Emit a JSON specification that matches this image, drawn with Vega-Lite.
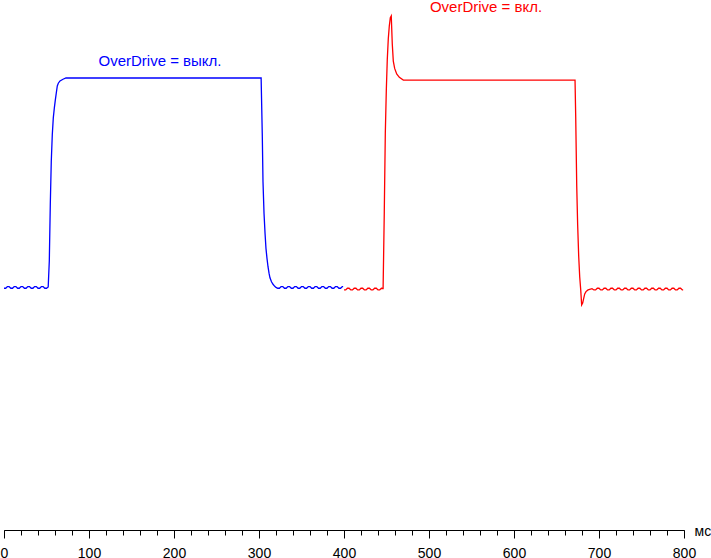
{
  "$schema": "https://vega.github.io/schema/vega-lite/v6.json",
  "width": 680,
  "height": 530,
  "autosize": "none",
  "padding": {"left": 4, "top": 0, "right": 27, "bottom": 28},
  "background": "white",
  "config": {"view": {"stroke": null}, "font": "Liberation Sans"},
  "resolve": {"axis": {"x": "independent"}},
  "datasets": {
    "curves": [
      {"s":"off","t":0,"v":-0.6},{"s":"off","t":2,"v":-0.6},{"s":"off","t":4,"v":0.2},{"s":"off","t":6,"v":0.2},
      {"s":"off","t":8,"v":-0.6},{"s":"off","t":10,"v":-0.6},{"s":"off","t":12,"v":0.2},{"s":"off","t":14,"v":0.2},
      {"s":"off","t":16,"v":-0.6},{"s":"off","t":18,"v":-0.6},{"s":"off","t":20,"v":0.2},{"s":"off","t":22,"v":0.2},
      {"s":"off","t":24,"v":-0.6},{"s":"off","t":26,"v":-0.6},{"s":"off","t":28,"v":0.2},{"s":"off","t":30,"v":0.2},
      {"s":"off","t":32,"v":-0.6},{"s":"off","t":34,"v":-0.6},{"s":"off","t":36,"v":0.2},{"s":"off","t":38,"v":0.2},
      {"s":"off","t":40,"v":-0.6},{"s":"off","t":42,"v":-0.6},{"s":"off","t":44,"v":0.2},{"s":"off","t":46,"v":0.2},
      {"s":"off","t":48,"v":-0.6},{"s":"off","t":50,"v":-0.6},{"s":"off","t":52,"v":0.0},
      {"s":"off","t":53.3,"v":12.4},{"s":"off","t":54.5,"v":40.2},{"s":"off","t":55.6,"v":59.8},{"s":"off","t":56.8,"v":72.7},
      {"s":"off","t":58.0,"v":80.9},{"s":"off","t":59.2,"v":85.6},{"s":"off","t":60.4,"v":89.5},{"s":"off","t":61.5,"v":92.8},
      {"s":"off","t":62.7,"v":96.2},{"s":"off","t":63.9,"v":97.5},{"s":"off","t":65.9,"v":98.6},{"s":"off","t":69.4,"v":99.4},
      {"s":"off","t":72.9,"v":100},{"s":"off","t":100,"v":100},{"s":"off","t":150,"v":100},{"s":"off","t":200,"v":100},
      {"s":"off","t":250,"v":100},{"s":"off","t":302.5,"v":100},
      {"s":"off","t":303.9,"v":71.9},{"s":"off","t":304.7,"v":50.4},{"s":"off","t":305.9,"v":35.3},{"s":"off","t":307.1,"v":25.7},
      {"s":"off","t":308.2,"v":18.5},{"s":"off","t":309.4,"v":13.7},{"s":"off","t":310.6,"v":9.7},{"s":"off","t":311.8,"v":6.6},
      {"s":"off","t":312.9,"v":4.4},{"s":"off","t":314.7,"v":2.5},{"s":"off","t":316.5,"v":1.3},{"s":"off","t":318.5,"v":0.3},
      {"s":"off","t":320,"v":-0.2},
      {"s":"off","t":322,"v":-0.6},{"s":"off","t":324,"v":-0.6},{"s":"off","t":326,"v":0.2},{"s":"off","t":328,"v":0.2},
      {"s":"off","t":330,"v":-0.6},{"s":"off","t":332,"v":-0.6},{"s":"off","t":334,"v":0.2},{"s":"off","t":336,"v":0.2},
      {"s":"off","t":338,"v":-0.6},{"s":"off","t":340,"v":-0.6},{"s":"off","t":342,"v":0.2},{"s":"off","t":344,"v":0.2},
      {"s":"off","t":346,"v":-0.6},{"s":"off","t":348,"v":-0.6},{"s":"off","t":350,"v":0.2},{"s":"off","t":352,"v":0.2},
      {"s":"off","t":354,"v":-0.6},{"s":"off","t":356,"v":-0.6},{"s":"off","t":358,"v":0.2},{"s":"off","t":360,"v":0.2},
      {"s":"off","t":362,"v":-0.6},{"s":"off","t":364,"v":-0.6},{"s":"off","t":366,"v":0.2},{"s":"off","t":368,"v":0.2},
      {"s":"off","t":370,"v":-0.6},{"s":"off","t":372,"v":-0.6},{"s":"off","t":374,"v":0.2},{"s":"off","t":376,"v":0.2},
      {"s":"off","t":378,"v":-0.6},{"s":"off","t":380,"v":-0.6},{"s":"off","t":382,"v":0.2},{"s":"off","t":384,"v":0.2},
      {"s":"off","t":386,"v":-0.6},{"s":"off","t":388,"v":-0.6},{"s":"off","t":390,"v":0.2},{"s":"off","t":392,"v":0.2},
      {"s":"off","t":394,"v":-0.6},{"s":"off","t":396,"v":-0.6},{"s":"off","t":398,"v":0.2},{"s":"off","t":399,"v":0.2},

      {"s":"on","t":400,"v":-1.4},{"s":"on","t":402,"v":-1.4},{"s":"on","t":404,"v":-0.6},{"s":"on","t":406,"v":-0.6},
      {"s":"on","t":408,"v":-1.4},{"s":"on","t":410,"v":-1.4},{"s":"on","t":412,"v":-0.6},{"s":"on","t":414,"v":-0.6},
      {"s":"on","t":416,"v":-1.4},{"s":"on","t":418,"v":-1.4},{"s":"on","t":420,"v":-0.6},{"s":"on","t":422,"v":-0.6},
      {"s":"on","t":424,"v":-1.4},{"s":"on","t":426,"v":-1.4},{"s":"on","t":428,"v":-0.6},{"s":"on","t":430,"v":-0.6},
      {"s":"on","t":432,"v":-1.4},{"s":"on","t":434,"v":-1.4},{"s":"on","t":436,"v":-0.6},{"s":"on","t":438,"v":-0.6},
      {"s":"on","t":440,"v":-1.4},{"s":"on","t":442,"v":-1.4},{"s":"on","t":444,"v":-0.6},{"s":"on","t":446,"v":-0.7},
      {"s":"on","t":447.4,"v":36.0},{"s":"on","t":448.6,"v":73.4},{"s":"on","t":449.8,"v":94.5},{"s":"on","t":450.9,"v":108.6},
      {"s":"on","t":452.1,"v":118.7},{"s":"on","t":453.3,"v":124.9},{"s":"on","t":454.5,"v":128.9},{"s":"on","t":455.6,"v":129.7},
      {"s":"on","t":456.8,"v":116.3},{"s":"on","t":458.0,"v":108.1},{"s":"on","t":459.6,"v":104.6},{"s":"on","t":462.0,"v":101.9},
      {"s":"on","t":465.1,"v":100.3},{"s":"on","t":469.8,"v":99.0},{"s":"on","t":500,"v":99.0},{"s":"on","t":550,"v":99.0},
      {"s":"on","t":600,"v":99.0},{"s":"on","t":650,"v":99.0},{"s":"on","t":671.8,"v":99.0},
      {"s":"on","t":672.6,"v":81.5},{"s":"on","t":673.8,"v":48.3},{"s":"on","t":674.9,"v":29.7},{"s":"on","t":676.1,"v":14.8},
      {"s":"on","t":677.3,"v":4.9},{"s":"on","t":678.5,"v":-1.4},{"s":"on","t":679.6,"v":-8.6},{"s":"on","t":680.8,"v":-7.7},
      {"s":"on","t":682.0,"v":-5.4},{"s":"on","t":683.2,"v":-3.3},{"s":"on","t":684.7,"v":-2.2},{"s":"on","t":687.1,"v":-1.4},
      {"s":"on","t":691.8,"v":-0.8},
      {"s":"on","t":694,"v":-1.4},{"s":"on","t":696,"v":-1.4},{"s":"on","t":698,"v":-0.6},{"s":"on","t":700,"v":-0.6},
      {"s":"on","t":702,"v":-1.4},{"s":"on","t":704,"v":-1.4},{"s":"on","t":706,"v":-0.6},{"s":"on","t":708,"v":-0.6},
      {"s":"on","t":710,"v":-1.4},{"s":"on","t":712,"v":-1.4},{"s":"on","t":714,"v":-0.6},{"s":"on","t":716,"v":-0.6},
      {"s":"on","t":718,"v":-1.4},{"s":"on","t":720,"v":-1.4},{"s":"on","t":722,"v":-0.6},{"s":"on","t":724,"v":-0.6},
      {"s":"on","t":726,"v":-1.4},{"s":"on","t":728,"v":-1.4},{"s":"on","t":730,"v":-0.6},{"s":"on","t":732,"v":-0.6},
      {"s":"on","t":734,"v":-1.4},{"s":"on","t":736,"v":-1.4},{"s":"on","t":738,"v":-0.6},{"s":"on","t":740,"v":-0.6},
      {"s":"on","t":742,"v":-1.4},{"s":"on","t":744,"v":-1.4},{"s":"on","t":746,"v":-0.6},{"s":"on","t":748,"v":-0.6},
      {"s":"on","t":750,"v":-1.4},{"s":"on","t":752,"v":-1.4},{"s":"on","t":754,"v":-0.6},{"s":"on","t":756,"v":-0.6},
      {"s":"on","t":758,"v":-1.4},{"s":"on","t":760,"v":-1.4},{"s":"on","t":762,"v":-0.6},{"s":"on","t":764,"v":-0.6},
      {"s":"on","t":766,"v":-1.4},{"s":"on","t":768,"v":-1.4},{"s":"on","t":770,"v":-0.6},{"s":"on","t":772,"v":-0.6},
      {"s":"on","t":774,"v":-1.4},{"s":"on","t":776,"v":-1.4},{"s":"on","t":778,"v":-0.6},{"s":"on","t":780,"v":-0.6},
      {"s":"on","t":782,"v":-1.4},{"s":"on","t":784,"v":-1.4},{"s":"on","t":786,"v":-0.6},{"s":"on","t":788,"v":-0.6},
      {"s":"on","t":790,"v":-1.4},{"s":"on","t":792,"v":-1.4},{"s":"on","t":794,"v":-0.6},{"s":"on","t":796,"v":-0.6},
      {"s":"on","t":798,"v":-1.4},{"s":"on","t":799,"v":-1.4}
    ],
    "labels": [
      {"s":"off","t":183.5,"v":105.7,"label":"OverDrive = выкл."},
      {"s":"on","t":567.1,"v":131.6,"label":"OverDrive = вкл."}
    ]
  },
  "layer": [
    {
      "data": {"name": "curves"},
      "mark": {"type": "line", "strokeWidth": 1.3, "interpolate": "linear"},
      "encoding": {
        "x": {
          "field": "t", "type": "quantitative",
          "scale": {"domain": [0, 800], "nice": false, "zero": false},
          "axis": {
            "orient": "bottom",
            "values": [0,100,200,300,400,500,600,700,800],
            "labelOverlap": false, "labelFlush": false, "labelBound": false,
            "tickSize": 8,
            "tickColor": "black", "tickWidth": 1, "domainColor": "black", "domainWidth": 1,
            "labelColor": "black", "labelFont": "Liberation Sans", "labelFontSize": 14,
            "labelBaseline": "alphabetic", "labelPadding": 19,
            "grid": false,
            "title": "мс", "titleX": 690, "titleY": 5, "titleAlign": "left", "titleBaseline": "alphabetic",
            "titleFont": "Liberation Sans", "titleFontSize": 14, "titleFontWeight": "normal", "titleColor": "black"
          }
        },
        "y": {
          "field": "v", "type": "quantitative",
          "scale": {"domain": [-116.27, 137.32], "nice": false, "zero": false},
          "axis": null
        },
        "color": {
          "field": "s", "type": "nominal",
          "scale": {"domain": ["off", "on"], "range": ["#0000ff", "#ff0000"]},
          "legend": null
        }
      }
    },
    {
      "data": {"name": "labels"},
      "mark": {"type": "text", "font": "Liberation Sans", "fontSize": 15, "align": "center", "baseline": "alphabetic"},
      "encoding": {
        "x": {
          "field": "t", "type": "quantitative",
          "axis": {
            "orient": "bottom",
            "values": [0,20,40,60,80,100,120,140,160,180,200,220,240,260,280,300,320,340,360,380,400,420,440,460,480,500,520,540,560,580,600,620,640,660,680,700,720,740,760,780,800],
            "labels": false, "domain": false, "grid": false,
            "tickSize": 5, "tickColor": "black", "tickWidth": 1,
            "title": null
          }
        },
        "y": {"field": "v", "type": "quantitative"},
        "text": {"field": "label"},
        "color": {"field": "s", "type": "nominal", "legend": null}
      }
    }
  ]
}
